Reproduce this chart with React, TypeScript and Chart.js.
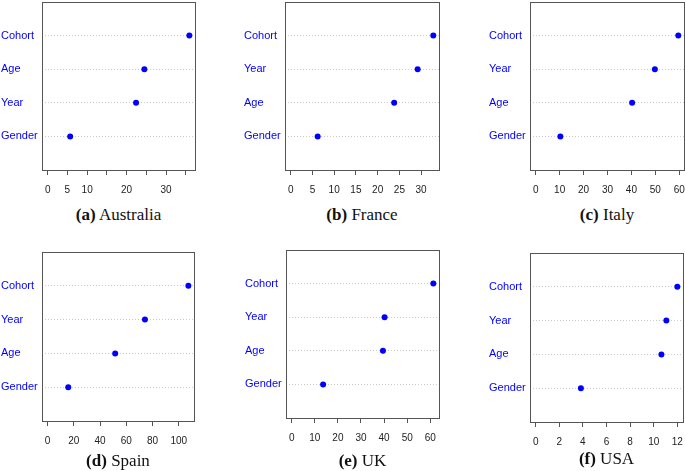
import React, { useEffect, useRef } from "react";
import { Chart, registerables } from "chart.js";
Chart.register(...registerables);

// ---- Data (bottom-to-top order of categories in each panel) ----
const australiaCategories = ["Gender", "Year", "Age", "Cohort"];
const australiaValues = [5.7, 22.4, 24.5, 35.9];
const australiaTicks = [0, 5, 10, 15, 20, 25, 30, 35];
const australiaTickLabels = [0, 5, 10, 20, 30];

const franceCategories = ["Gender", "Age", "Year", "Cohort"];
const franceValues = [6.2, 23.8, 29.2, 32.8];
const franceTicks = [0, 5, 10, 15, 20, 25, 30];
const franceTickLabels = [0, 5, 10, 15, 20, 25, 30];

const italyCategories = ["Gender", "Age", "Year", "Cohort"];
const italyValues = [10.3, 40.3, 49.8, 59.6];
const italyTicks = [0, 10, 20, 30, 40, 50, 60];
const italyTickLabels = [0, 10, 20, 30, 40, 50, 60];

const spainCategories = ["Gender", "Age", "Year", "Cohort"];
const spainValues = [15.7, 51.5, 74.2, 107.3];
const spainTicks = [0, 20, 40, 60, 80, 100];
const spainTickLabels = [0, 20, 40, 60, 80, 100];

const ukCategories = ["Gender", "Age", "Year", "Cohort"];
const ukValues = [13.6, 39.5, 40.2, 61.3];
const ukTicks = [0, 10, 20, 30, 40, 50, 60];
const ukTickLabels = [0, 10, 20, 30, 40, 50, 60];

const usaCategories = ["Gender", "Age", "Year", "Cohort"];
const usaValues = [3.83, 10.65, 11.07, 12.0];
const usaTicks = [0, 2, 4, 6, 8, 10, 12];
const usaTickLabels = [0, 2, 4, 6, 8, 10, 12];

const captionTags = ["(a)", "(b)", "(c)", "(d)", "(e)", "(f)"];
const countries = ["Australia", "France", "Italy", "Spain", "UK", "USA"];

// ---- Layout (page pixels of each plot box) ----
const boxes = [
  { left: 42, top: 2, width: 153, height: 168, capBase: 220.7 },
  { left: 285, top: 2, width: 154, height: 168, capBase: 220.7 },
  { left: 530, top: 2, width: 154, height: 168, capBase: 220.7 },
  { left: 42, top: 252, width: 152, height: 169, capBase: 466.7 },
  { left: 286, top: 250, width: 153, height: 168, capBase: 466.7 },
  { left: 530, top: 253, width: 153, height: 169, capBase: 465 },
];

const LABEL_W = 41;
const PAD_TOP = 3;
const PAD_RIGHT = 8;
const AXIS_H = 32;
const SANS = '"Liberation Sans", Arial, Helvetica, sans-serif';

const boxPlugin = {
  id: "rbox",
  beforeDatasetsDraw(chart: any) {
    const { ctx, chartArea } = chart;
    const { left, top, right, bottom } = chartArea;
    ctx.save();
    ctx.strokeStyle = "#555555";
    ctx.lineWidth = 1;
    ctx.strokeRect(
      Math.round(left) + 0.5,
      Math.round(top) + 0.5,
      Math.round(right - left),
      Math.round(bottom - top)
    );
    ctx.restore();
  },
};

type PanelProps = {
  categories: string[];
  values: number[];
  ticks: number[];
  tickLabels: number[];
  box: { left: number; top: number; width: number; height: number; capBase: number };
  tag: string;
  country: string;
};

function Panel({ categories, values, ticks, tickLabels, box, tag, country }: PanelProps) {
  const ref = useRef<HTMLCanvasElement>(null);
  const cw = LABEL_W + box.width + PAD_RIGHT;
  const ch = PAD_TOP + box.height + AXIS_H;

  useEffect(() => {
    const maxV = Math.max(...values);
    const chart = new Chart(ref.current as HTMLCanvasElement, {
      type: "scatter",
      data: {
        datasets: [
          {
            data: values.map((v, i) => ({ x: v, y: i + 1 })),
            pointRadius: 3,
            pointHoverRadius: 3,
            backgroundColor: "#0000ff",
            borderWidth: 0,
            pointBorderWidth: 0,
            clip: false,
          } as any,
        ],
      },
      options: {
        animation: false,
        responsive: false,
        events: [],
        layout: { padding: { left: 0, top: PAD_TOP, right: PAD_RIGHT, bottom: 0 } },
        plugins: { legend: { display: false }, tooltip: { enabled: false } },
        scales: {
          x: {
            type: "linear",
            position: "bottom",
            min: -0.04 * maxV,
            max: 1.04 * maxV,
            afterBuildTicks: (s: any) => {
              s.ticks = ticks.map((v) => ({ value: v }));
            },
            afterFit: (s: any) => {
              s.height = AXIS_H;
              s.paddingLeft = 0;
              s.paddingRight = 0;
            },
            ticks: {
              autoSkip: false,
              maxRotation: 0,
              minRotation: 0,
              padding: 9,
              color: "#222222",
              font: { family: SANS, size: 10 },
              callback: (v: any) => (tickLabels.includes(Number(v)) ? String(v) : ""),
            },
            grid: {
              drawOnChartArea: false,
              drawTicks: true,
              tickLength: 5,
              tickColor: "#555555",
              color: "#555555",
            },
            border: { display: false },
          },
          y: {
            type: "linear",
            min: 0,
            max: 5,
            afterBuildTicks: (s: any) => {
              s.ticks = categories.map((_, i) => ({ value: i + 1 }));
            },
            afterFit: (s: any) => {
              s.width = LABEL_W;
              s.paddingTop = 0;
              s.paddingBottom = 0;
            },
            ticks: {
              autoSkip: false,
              crossAlign: "far",
              color: "#0000ff",
              font: { family: SANS, size: 11 },
              callback: (v: any) => categories[Math.round(Number(v)) - 1] ?? "",
            },
            grid: { drawTicks: false, color: "#cccccc", lineWidth: 1 },
            border: { display: false, dash: [1, 2] },
          },
        },
      } as any,
      plugins: [boxPlugin],
    });
    return () => chart.destroy();
  }, []);

  return (
    <>
      <canvas
        ref={ref}
        width={cw}
        height={ch}
        style={{
          position: "absolute",
          left: box.left - LABEL_W,
          top: box.top - PAD_TOP,
          width: cw,
          height: ch,
        }}
      />
      <div
        style={{
          position: "absolute",
          left: box.left + box.width / 2 - 100,
          width: 200,
          top: box.capBase - 15.75,
          textAlign: "center",
          fontFamily: '"Liberation Serif", "Times New Roman", serif',
          fontSize: 17,
          lineHeight: "20px",
          color: "#111111",
          whiteSpace: "nowrap",
        }}
      >
        <b>{tag}</b> {country}
      </div>
    </>
  );
}

const allCategories = [australiaCategories, franceCategories, italyCategories, spainCategories, ukCategories, usaCategories];
const allValues = [australiaValues, franceValues, italyValues, spainValues, ukValues, usaValues];
const allTicks = [australiaTicks, franceTicks, italyTicks, spainTicks, ukTicks, usaTicks];
const allTickLabels = [australiaTickLabels, franceTickLabels, italyTickLabels, spainTickLabels, ukTickLabels, usaTickLabels];

export default function App() {
  return (
    <div
      style={{
        position: "absolute",
        left: 0,
        top: 0,
        width: 685,
        height: 471,
        overflow: "hidden",
        background: "#ffffff",
      }}
    >
      {boxes.map((box, i) => (
        <Panel
          key={i}
          box={box}
          categories={allCategories[i]}
          values={allValues[i]}
          ticks={allTicks[i]}
          tickLabels={allTickLabels[i]}
          tag={captionTags[i]}
          country={countries[i]}
        />
      ))}
    </div>
  );
}
